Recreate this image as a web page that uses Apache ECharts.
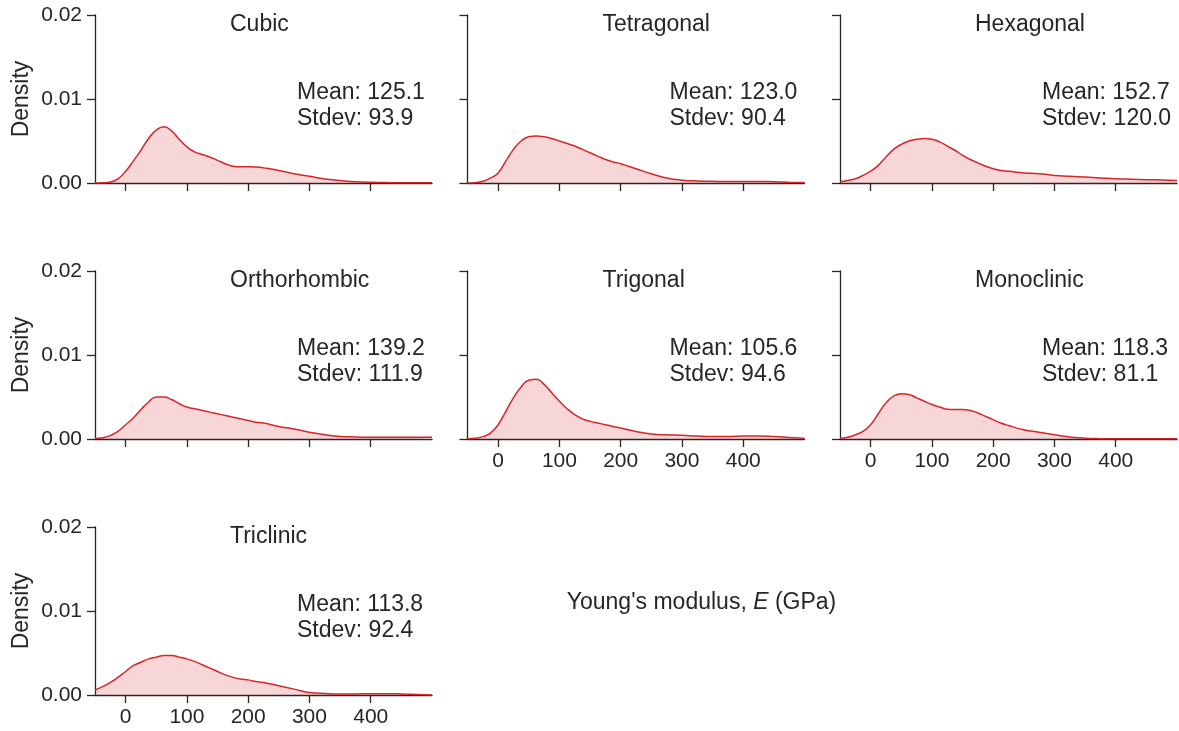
<!DOCTYPE html>
<html>
<head>
<meta charset="utf-8">
<title>Young's modulus by crystal system</title>
<script src="https://cdn.jsdelivr.net/npm/echarts@6/dist/echarts.min.js"></script>
<style>
  html, body { margin: 0; padding: 0; background: #ffffff; }
  #chart { width: 1179px; height: 731px; }
</style>
</head>
<body>
<div id="chart"></div>
<script>
// Crystal systems, one panel each
const systems = ['Cubic', 'Tetragonal', 'Hexagonal', 'Orthorhombic', 'Trigonal', 'Monoclinic', 'Triclinic'];
const means = [125.1, 123.0, 152.7, 139.2, 105.6, 118.3, 113.8];
const stdevs = [93.9, 90.4, 120.0, 111.9, 94.6, 81.1, 92.4];

// Young's modulus grid (GPa) on which the densities are evaluated
const modulusGrid = [-50, -37.5, -25, -12.5, 0, 12.5, 25, 37.5, 50, 62.5, 75, 87.5, 100, 112.5, 125, 137.5, 150, 162.5, 175, 187.5, 200, 212.5, 225,
  250, 275, 300, 325, 350, 375, 400, 425, 450, 475, 500];

// Kernel density estimates per crystal system
const cubic = [0.00000, 0.00002, 0.00012, 0.00050, 0.00140, 0.00260, 0.00390, 0.00530, 0.00630, 0.00670, 0.00620, 0.00520, 0.00430, 0.00370, 0.00340, 0.00310, 0.00270, 0.00230, 0.00200, 0.00192, 0.00192, 0.00190, 0.00180,
  0.00150, 0.00110, 0.00080, 0.00048, 0.00030, 0.00015, 0.00008, 0.00005, 0.00003, 0.00003, 0.00003];
const tetragonal = [0.00001, 0.00004, 0.00020, 0.00060, 0.00120, 0.00260, 0.00400, 0.00500, 0.00550, 0.00560, 0.00550, 0.00530, 0.00500, 0.00470, 0.00440, 0.00400, 0.00360, 0.00320, 0.00280, 0.00250, 0.00230, 0.00200, 0.00170,
  0.00110, 0.00060, 0.00034, 0.00024, 0.00020, 0.00018, 0.00018, 0.00018, 0.00015, 0.00010, 0.00007];
const hexagonal = [0.00015, 0.00030, 0.00050, 0.00090, 0.00140, 0.00210, 0.00310, 0.00400, 0.00460, 0.00500, 0.00520, 0.00530, 0.00520, 0.00490, 0.00440, 0.00390, 0.00330, 0.00280, 0.00240, 0.00200, 0.00170, 0.00150, 0.00140,
  0.00120, 0.00110, 0.00090, 0.00080, 0.00070, 0.00060, 0.00050, 0.00045, 0.00040, 0.00035, 0.00030];
const orthorhombic = [0.00005, 0.00015, 0.00040, 0.00090, 0.00170, 0.00250, 0.00350, 0.00440, 0.00500, 0.00500, 0.00470, 0.00420, 0.00380, 0.00360, 0.00340, 0.00320, 0.00300, 0.00280, 0.00260, 0.00240, 0.00220, 0.00200, 0.00190,
  0.00150, 0.00120, 0.00080, 0.00050, 0.00030, 0.00024, 0.00020, 0.00020, 0.00020, 0.00020, 0.00020];
const trigonal = [0.00002, 0.00008, 0.00028, 0.00070, 0.00170, 0.00330, 0.00490, 0.00620, 0.00700, 0.00710, 0.00650, 0.00550, 0.00450, 0.00360, 0.00290, 0.00240, 0.00210, 0.00190, 0.00170, 0.00150, 0.00130, 0.00110, 0.00090,
  0.00060, 0.00050, 0.00045, 0.00035, 0.00030, 0.00030, 0.00035, 0.00036, 0.00030, 0.00018, 0.00008];
const monoclinic = [0.00005, 0.00020, 0.00050, 0.00090, 0.00170, 0.00300, 0.00430, 0.00510, 0.00540, 0.00530, 0.00490, 0.00450, 0.00410, 0.00380, 0.00355, 0.00350, 0.00350, 0.00340, 0.00310, 0.00270, 0.00230, 0.00190, 0.00160,
  0.00110, 0.00080, 0.00050, 0.00025, 0.00010, 0.00004, 0.00002, 0.00002, 0.00002, 0.00002, 0.00002];
const triclinic = [0.00060, 0.00100, 0.00150, 0.00210, 0.00280, 0.00350, 0.00390, 0.00430, 0.00450, 0.00470, 0.00470, 0.00450, 0.00430, 0.00400, 0.00360, 0.00320, 0.00280, 0.00240, 0.00210, 0.00190, 0.00180, 0.00160, 0.00150,
  0.00110, 0.00070, 0.00030, 0.00018, 0.00012, 0.00013, 0.00016, 0.00016, 0.00013, 0.00007, 0.00001];
const densities = [cubic, tetragonal, hexagonal, orthorhombic, trigonal, monoclinic, triclinic];

// Tick positions
const xTicks = [0, 100, 200, 300, 400];

// Panel geometry (px)
const colLeft = [95, 467.5, 840];
const rowTop = [15, 271, 527];
const panelW = 337;
const panelH = 168;

const ink = '#262626';
const red = '#d62728';
const fontFamily = '"Liberation Sans", Arial, Helvetica, sans-serif';

// Panels showing x tick labels (nothing drawn below them)
const showXLabels = [false, false, false, false, true, true, true];

const grids = [], xAxes = [], yAxes = [], series = [], graphics = [];

systems.forEach((name, i) => {
  const row = Math.floor(i / 3), col = i % 3;
  const left = colLeft[col], top = rowTop[row];
  grids.push({ left: left, top: top, width: panelW, height: panelH, containLabel: false });

  xAxes.push({
    type: 'value', gridIndex: i, min: -50, max: 500,
    splitLine: { show: false },
    axisLine: { show: true, onZero: false, lineStyle: { color: ink, width: 1.3 } },
    axisTick: { show: true, length: 8, customValues: xTicks, lineStyle: { color: ink, width: 1.3 } },
    axisLabel: { show: showXLabels[i], customValues: xTicks, margin: 12, fontSize: 21, color: ink, fontFamily: fontFamily }
  });

  yAxes.push({
    type: 'value', gridIndex: i, min: 0, max: 0.02, interval: 0.01,
    splitLine: { show: false },
    axisLine: { show: true, onZero: false, lineStyle: { color: ink, width: 1.3 } },
    axisTick: { show: true, length: 8, lineStyle: { color: ink, width: 1.3 } },
    axisLabel: {
      show: col === 0, margin: 13, fontSize: 21, color: ink, fontFamily: fontFamily,
      formatter: v => v.toFixed(2)
    }
  });

  series.push({
    type: 'line', xAxisIndex: i, yAxisIndex: i,
    data: modulusGrid.map((x, k) => [x, densities[i][k]]),
    smooth: 0.5, symbol: 'none', showSymbol: false,
    lineStyle: { color: red, width: 1.5 },
    areaStyle: { color: 'rgba(214, 39, 40, 0.27)' },
    silent: true, animation: false
  });

  // Panel title
  graphics.push({
    type: 'text', x: left + 135, y: top + 10,
    style: { text: name, fontSize: 23, fontFamily: fontFamily, fill: ink, align: 'left', verticalAlign: 'middle' }
  });
  // Summary statistics
  graphics.push({
    type: 'text', x: left + 202, y: top + 77.5,
    style: { text: 'Mean: ' + means[i].toFixed(1), fontSize: 23, fontFamily: fontFamily, fill: ink, align: 'left', verticalAlign: 'middle' }
  });
  graphics.push({
    type: 'text', x: left + 202, y: top + 103.5,
    style: { text: 'Stdev: ' + stdevs[i].toFixed(1), fontSize: 23, fontFamily: fontFamily, fill: ink, align: 'left', verticalAlign: 'middle' }
  });
  // Density label on the first column
  if (col === 0) {
    graphics.push({
      type: 'text', x: 22, y: top + panelH / 2, rotation: Math.PI / 2,
      style: { text: 'Density', fontSize: 23, fontFamily: fontFamily, fill: ink, align: 'center', verticalAlign: 'middle' }
    });
  }
});

// Shared x-axis label
graphics.push({
  type: 'text', x: 701.5, y: 603,
  style: {
    text: "{a|Young's modulus, }{b|E}{a| (GPa)}",
    fontSize: 23, fontFamily: fontFamily, fill: ink, align: 'center', verticalAlign: 'middle',
    rich: {
      a: { fontSize: 23, fontFamily: fontFamily, fill: ink },
      b: { fontSize: 23, fontFamily: fontFamily, fill: ink, fontStyle: 'italic' }
    }
  }
});

const chart = echarts.init(document.getElementById('chart'), null, { renderer: 'canvas' });
chart.setOption({
  backgroundColor: '#ffffff',
  animation: false,
  grid: grids,
  xAxis: xAxes,
  yAxis: yAxes,
  series: series,
  graphic: graphics
});
</script>
</body>
</html>
